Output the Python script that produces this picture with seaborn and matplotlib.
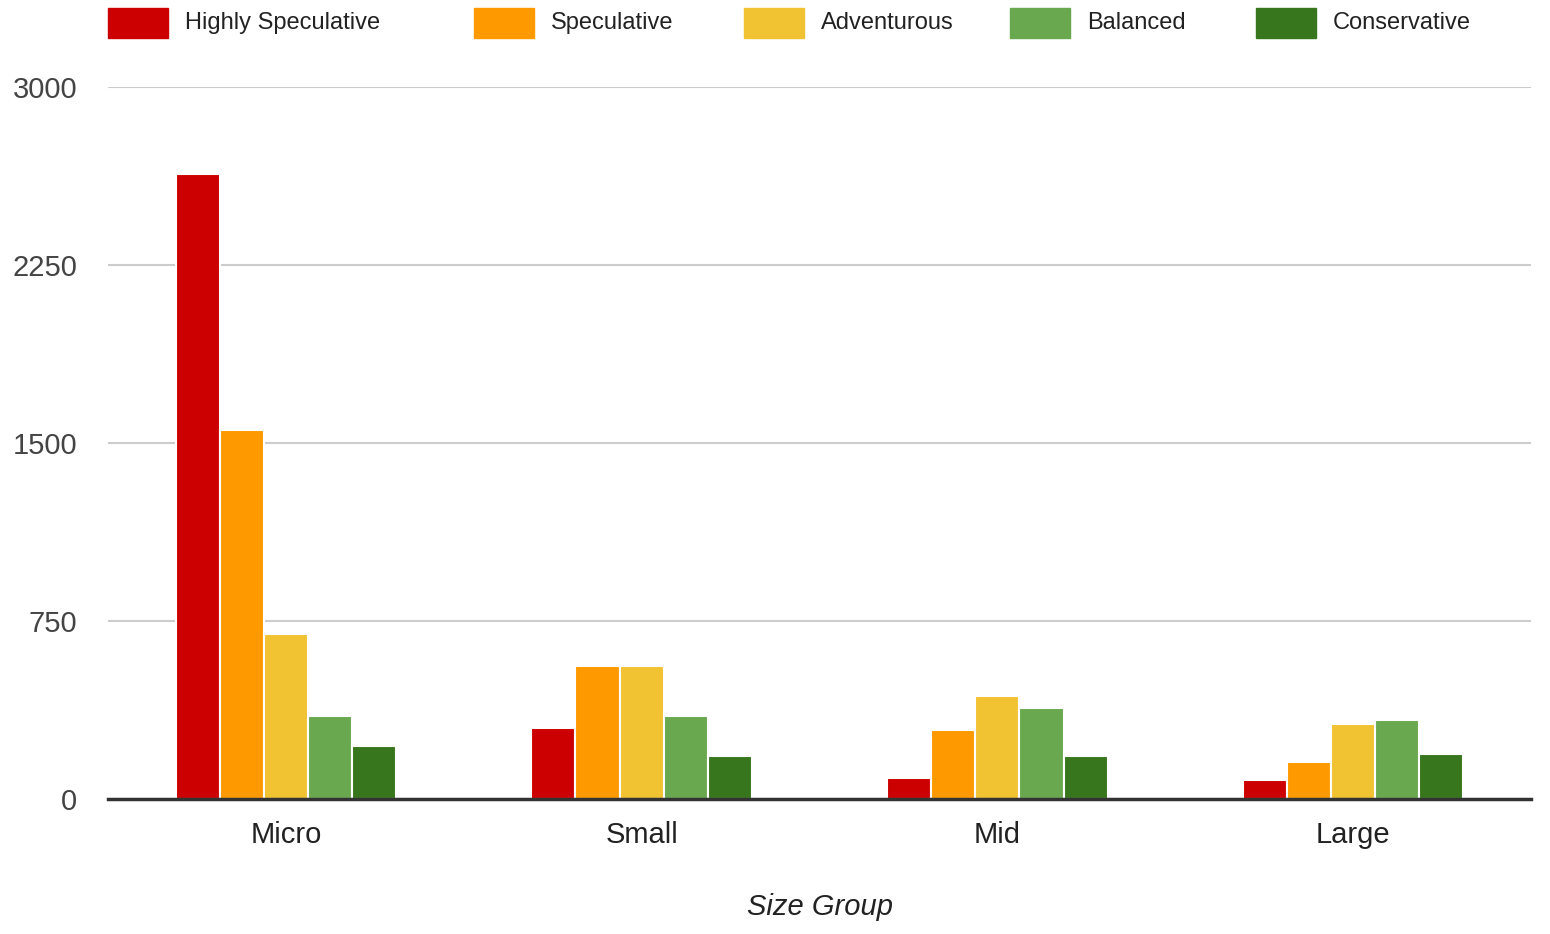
import pandas as pd
import matplotlib
matplotlib.use("Agg")
import matplotlib.pyplot as plt
import seaborn as sns
from matplotlib.patches import Rectangle

# Data
size_groups = ["Micro", "Small", "Mid", "Large"]
profiles = ["Highly Speculative", "Speculative", "Adventurous", "Balanced", "Conservative"]
colors = ["#cc0000", "#ff9900", "#f1c232", "#6aa84f", "#38761d"]

highly_speculative = [2633, 299, 88, 80]
speculative = [1555, 560, 291, 156]
adventurous = [695, 560, 434, 316]
balanced = [350, 350, 383, 333]
conservative = [223, 181, 181, 190]
y_ticks = [0, 750, 1500, 2250, 3000]

series = [highly_speculative, speculative, adventurous, balanced, conservative]
rows = []
for name, vals in zip(profiles, series):
    for grp, v in zip(size_groups, vals):
        rows.append({"Size Group": grp, "Profile": name, "Count": v})
df = pd.DataFrame(rows)

sns.set_style("white")
plt.rcParams["font.family"] = ["Liberation Sans", "DejaVu Sans"]

W, H = 1550, 934
fig = plt.figure(figsize=(W / 100, H / 100), dpi=100)
ax = fig.add_axes([108 / W, 1 - 799 / H, (1531 - 108) / W, (799 - 87) / H])

sns.barplot(data=df, x="Size Group", y="Count", hue="Profile",
            order=size_groups, hue_order=profiles, palette=colors,
            saturation=1, width=0.62, edgecolor="white", linewidth=1.5,
            errorbar=None, legend=False, ax=ax)

ax.set_ylim(0, 3000)
ax.set_yticks(y_ticks)
ax.set_yticklabels([str(t) for t in y_ticks])
ax.set_axisbelow(True)
ax.yaxis.grid(True, color="#cccccc", linewidth=1.5)
for s in ["left", "right", "top"]:
    ax.spines[s].set_visible(False)
ax.spines["bottom"].set_color("#333333")
ax.spines["bottom"].set_linewidth(2.5)
ax.tick_params(axis="y", length=0, pad=22, labelsize=21, labelcolor="#444444")
ax.tick_params(axis="x", length=0, pad=16, labelsize=21, labelcolor="#222222")
ax.set_xlabel("")
ax.set_ylabel("")

fig.text(820 / W, 1 - 907 / H, "Size Group", ha="center", va="center",
         fontsize=21, style="italic", color="#222222")

# legend across the top
rect_x = [108, 474, 744, 1010, 1256]
for i, name in enumerate(profiles):
    fig.add_artist(Rectangle((rect_x[i] / W, 1 - 38 / H), 60 / W, 30 / H,
                             transform=fig.transFigure, color=colors[i]))
    fig.text((rect_x[i] + 77) / W, 1 - 23 / H, name, ha="left", va="center",
             fontsize=17, color="#222222")

fig.savefig("out.png", dpi=100)
